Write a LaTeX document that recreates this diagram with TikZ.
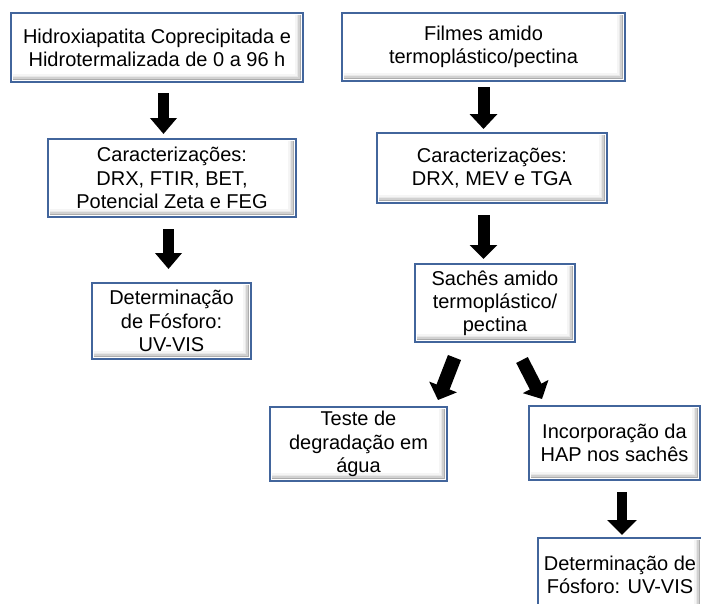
\documentclass[tikz,border=0pt]{standalone}
\usepackage{fontspec}
\setmainfont{Liberation Sans}
\usetikzlibrary{arrows.meta,calc}
\definecolor{boxblue}{RGB}{66,101,156}
\tikzset{
  flowbox/.style={draw=boxblue, line width=2pt, fill=white, inner sep=0pt, outer sep=0pt},
  boxtext/.style={inner sep=0pt, align=center, font=\fontsize{20}{23.2}\selectfont},
  boxborder/.style={draw=boxblue, line width=2pt},
  blockarrow/.style={draw=black, line width=11pt, -{Triangle[length=16pt,width=26pt]}},
}
\newcommand{\myboxshade}[1]{%
  \foreach \d/\c in {7/4,5.5/9,4/18,2.5/32}{
    \draw[black!\c, line width=1.6pt]
      ($(#1.north east)+(-\d,2)$) -- ($(#1.south east)+(-\d,-\d)$) -- ($(#1.south west)+(2,-\d)$);
  }
  \draw[boxborder] (#1.south west) rectangle (#1.north east);
}
\begin{document}
\begin{tikzpicture}[x=1pt,y=-1pt]
\useasboundingbox (0,0) rectangle (701,603);
\clip (0,0) rectangle (701,603);
\fill[white] (0,0) rectangle (701,603);

\node[flowbox, minimum width=292pt, minimum height=69pt] (b1) at (157,47.5) {};
\node[flowbox, minimum width=283pt, minimum height=68pt] (b2) at (483.5,47) {};
\node[flowbox, minimum width=248pt, minimum height=78pt] (b3) at (172,178) {};
\node[flowbox, minimum width=159pt, minimum height=76pt] (b4) at (171.5,321) {};
\node[flowbox, minimum width=230pt, minimum height=70pt] (b5) at (492,168) {};
\node[flowbox, minimum width=160pt, minimum height=78pt] (b6) at (495,303) {};
\node[flowbox, minimum width=177pt, minimum height=74pt] (b7) at (358.5,444) {};
\node[flowbox, minimum width=171pt, minimum height=74pt] (b8) at (614.5,443) {};
\node[flowbox, minimum width=164pt, minimum height=74pt] (b9) at (620,575) {};

\myboxshade{b1}\myboxshade{b2}\myboxshade{b3}\myboxshade{b4}\myboxshade{b5}
\myboxshade{b6}\myboxshade{b7}\myboxshade{b8}\myboxshade{b9}

\node[boxtext] (t1) at (b1) {Hidroxiapatita Coprecipitada e\\Hidrotermalizada de 0 a 96 h};
\node[boxtext] (t2) at (b2) {Filmes amido\\termopl\'astico/pectina};
\node[boxtext] (t3) at (b3) {Caracteriza\c{c}\~oes:\\DRX, FTIR, BET,\\Potencial Zeta e FEG};
\node[boxtext] (t4) at (b4) {Determina\c{c}\~ao\\de F\'osforo:\\UV-VIS};
\node[boxtext] (t5) at (b5) {Caracteriza\c{c}\~oes:\\DRX, MEV e TGA};
\node[boxtext] (t6) at (b6) {Sach\^es amido\\termopl\'astico/\\pectina};
\node[boxtext] (t7) at (b7) {Teste de\\degrada\c{c}\~ao em\\\'agua};
\node[boxtext] (t8) at (b8) {Incorpora\c{c}\~ao da\\HAP nos sach\^es};
\node[boxtext] (t9) at (b9) {Determina\c{c}\~ao de\\F\'osforo: UV-VIS};

% vertical block arrows
\draw[blockarrow] ($(b1.south)+(6.5,11)$) -- ($(b3.north)+(-8.5,-5)$);
\draw[blockarrow] ($(b3.south)+(-3.5,12)$) -- ($(b4.north)+(-3,-14)$);
\draw[blockarrow, line width=12pt, -{Triangle[length=15pt,width=27pt]}] ($(b2.south)+(0,6)$) -- ($(b5.north)+(-8.5,-4)$);
\draw[blockarrow, line width=12pt, -{Triangle[length=14pt,width=27pt]}] ($(b5.south)+(-8.5,12)$) -- ($(b6.north)+(-11.5,-5)$);
\draw[blockarrow, line width=10pt, -{Triangle[length=15pt,width=29pt]}] ($(b8.south)+(7.5,12)$) -- ($(b9.north)+(2,-3)$);
% diagonal block arrows
\draw[blockarrow, line width=14pt, -{Triangle[length=14pt,width=29pt]}] ($(b6.south)+(-40.5,15.5)$) -- ($(b7.north)+(79.5,-7)$);
\draw[blockarrow, line width=13pt, -{Triangle[length=14pt,width=28pt]}] ($(b6.south)+(27,18)$) -- ($(b8.north)+(-72.5,-7)$);
\end{tikzpicture}
\end{document}
